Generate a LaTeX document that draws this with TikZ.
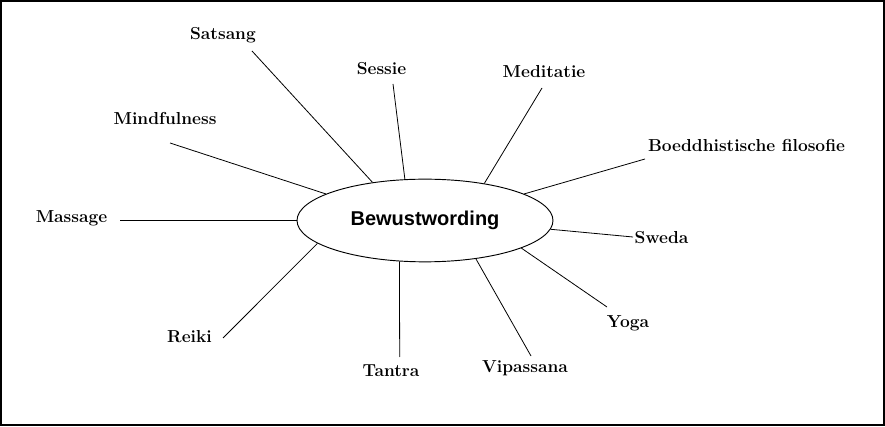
\documentclass[tikz,border=0pt]{standalone}
\usepackage{fontspec}
\newfontfamily\hubfont{Liberation Sans}
\tikzset{
  topic/.style={font=\fontsize{13}{15}\selectfont\bfseries, anchor=base, inner sep=0pt},
  hub/.style={draw, ellipse, line width=0.7pt, minimum width=192pt, minimum height=62pt,
    inner sep=0pt, font=\hubfont\fontsize{15}{18}\selectfont\bfseries},
  spoke/.style={line width=0.6pt}
}
\usetikzlibrary{shapes.geometric}
\begin{document}
\begin{tikzpicture}[x=0.75pt, y=-0.75pt]

  % Page size and outer frame
  \useasboundingbox (0,0) rectangle (885,427);
  \draw[line width=1.5pt] (1,1) rectangle (883.5,425);

  % The central idea
  \node[hub] (bew) at (425,220.5) {Bewustwording};

  % The topics around it
  \node[topic] (sat) at (223,40) {Satsang};
  \node[topic] (ses) at (381.5,75) {Sessie};
  \node[topic] (med) at (544,78) {Meditatie};
  \node[topic] (boe) at (746.5,152) {Boeddhistische filosofie};
  \node[topic] (min) at (165,125) {Mindfulness};
  \node[topic] (mas) at (71.5,223) {Massage};
  \node[topic] (swe) at (661.5,244) {Sweda};
  \node[topic] (rei) at (189.5,343) {Reiki};
  \node[topic] (tan) at (391,377) {Tantra};
  \node[topic] (vip) at (525,373) {Vipassana};
  \node[topic] (yog) at (628,328) {Yoga};

  % Free ends of the spokes, next to each topic
  \coordinate (sat-e) at (252,51);
  \coordinate (ses-e) at (393,84);
  \coordinate (med-e) at (542,88);
  \coordinate (boe-e) at (645,159);
  \coordinate (min-e) at (170,143);
  \coordinate (mas-e) at (120,220.5);
  \coordinate (swe-e) at (633,237);
  \coordinate (rei-e) at (223,338);
  \coordinate (tan-e) at (399.7,357);
  \coordinate (vip-e) at (531,356);
  \coordinate (yog-e) at (607,307);

  % Spokes from the ellipse out to the topics
  \draw[spoke] (bew.144) -- (sat-e);
  \draw[spoke] (bew.116) -- (ses-e);
  \draw[spoke] (bew.32) -- (med-e);
  \draw[spoke] (bew.15) -- (boe-e);
  \draw[spoke] (bew.165) -- (min-e);
  \draw[spoke] (bew.180) -- (mas-e);
  \draw[spoke] (bew.-4) -- (swe-e);
  \draw[spoke] (bew.192) -- (rei-e);
  \draw[spoke] (bew.238) -- (tan-e);
  \draw[spoke] (bew.323) -- (vip-e);
  \draw[spoke] (bew.344) -- (yog-e);

\end{tikzpicture}
\end{document}
